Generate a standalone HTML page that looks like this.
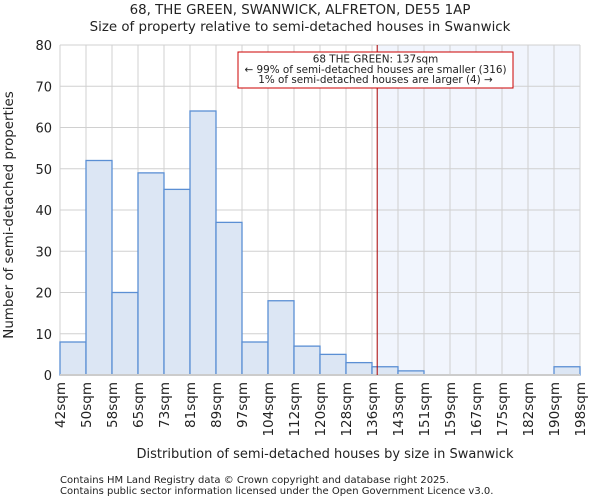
<!DOCTYPE html>
<html><head><meta charset="utf-8"><style>
body{margin:0;background:#fff;font-family:"DejaVu Sans","Liberation Sans",sans-serif}
svg text{font-family:"DejaVu Sans","Liberation Sans",sans-serif;fill:#222}
</style></head><body>
<svg id="c" width="600" height="500" xmlns="http://www.w3.org/2000/svg">
<text x="300" y="14" text-anchor="middle" font-size="13.4">68, THE GREEN, SWANWICK, ALFRETON, DE55 1AP</text>
<text x="300" y="31" text-anchor="middle" font-size="13.4">Size of property relative to semi-detached houses in Swanwick</text>
<g id="grid"></g><g id="bars"></g><g id="axes"></g>
<text x="325" y="458" text-anchor="middle" font-size="13">Distribution of semi-detached houses by size in Swanwick</text>
<text transform="translate(13,215) rotate(-90)" text-anchor="middle" font-size="13.4">Number of semi-detached properties</text>
<text x="60" y="483" font-size="10" fill="#555">Contains HM Land Registry data © Crown copyright and database right 2025.</text>
<text x="60" y="494" font-size="10" fill="#555">Contains public sector information licensed under the Open Government Licence v3.0.</text>
</svg>
<script>
const categories=["42sqm","50sqm","58sqm","65sqm","73sqm","81sqm","89sqm","97sqm","104sqm","112sqm","120sqm","128sqm","136sqm","143sqm","151sqm","159sqm","167sqm","175sqm","182sqm","190sqm","198sqm"];
const counts=[8,52,20,49,45,64,37,8,18,7,5,3,2,1,0,0,0,0,0,2];
const yTicks=[0,10,20,30,40,50,60,70,80];
const markerBin=12.2;
const L=60,R=580,T=45,B=375,yMax=80;
const bw=(R-L)/counts.length;
const x=i=>L+i*bw, y=v=>B-(v/yMax)*(B-T);
const NS="http://www.w3.org/2000/svg";
function mk(p,t,a){const e=document.createElementNS(NS,t);for(const k in a)e.setAttribute(k,a[k]);document.getElementById(p).appendChild(e);return e;}
const mx=x(markerBin);
let e=mk('grid','rect',{x:mx,y:T,width:R-mx,height:B-T,fill:'#f1f5fd'});


yTicks.forEach(v=>{const g=mk('grid','line',{x1:L,x2:R,y1:y(v),y2:y(v),stroke:'#d0d0d0'});


const t=mk('axes','text',{x:L-8,y:y(v)+5,'text-anchor':'end','font-size':'13'});t.textContent=v;

});
categories.forEach((c,i)=>{const g=mk('grid','line',{x1:x(i),x2:x(i),y1:T,y2:B,stroke:'#d0d0d0'});


const t=mk('axes','text',{transform:`translate(${x(i)+5},${B+7}) rotate(-90)`,'text-anchor':'end','font-size':'13.5'});t.textContent=c;

});
counts.forEach((v,i)=>{if(v<=0)return;const b=mk('bars','rect',{x:x(i),y:y(v),width:bw,height:B-y(v),fill:'#dce6f4',stroke:'#5b8fd4','stroke-width':'1.3'});

});
e=mk('axes','line',{x1:L,x2:R,y1:B,y2:B,stroke:'#ccc','stroke-width':'2'});


e=mk('axes','line',{x1:mx,x2:mx,y1:T,y2:B,stroke:'#a00','stroke-width':'1'});


e=mk('axes','rect',{x:238,y:52,width:275,height:36,fill:'#fff',stroke:'#c00','stroke-width':'1'});


["68 THE GREEN: 137sqm","← 99% of semi-detached houses are smaller (316)","1% of semi-detached houses are larger (4) →"].forEach((s,i)=>{const t=mk('axes','text',{x:375.5,y:62.5+i*10.3,'text-anchor':'middle','font-size':'10.4'});t.textContent=s;

});
</script>
</body></html>
